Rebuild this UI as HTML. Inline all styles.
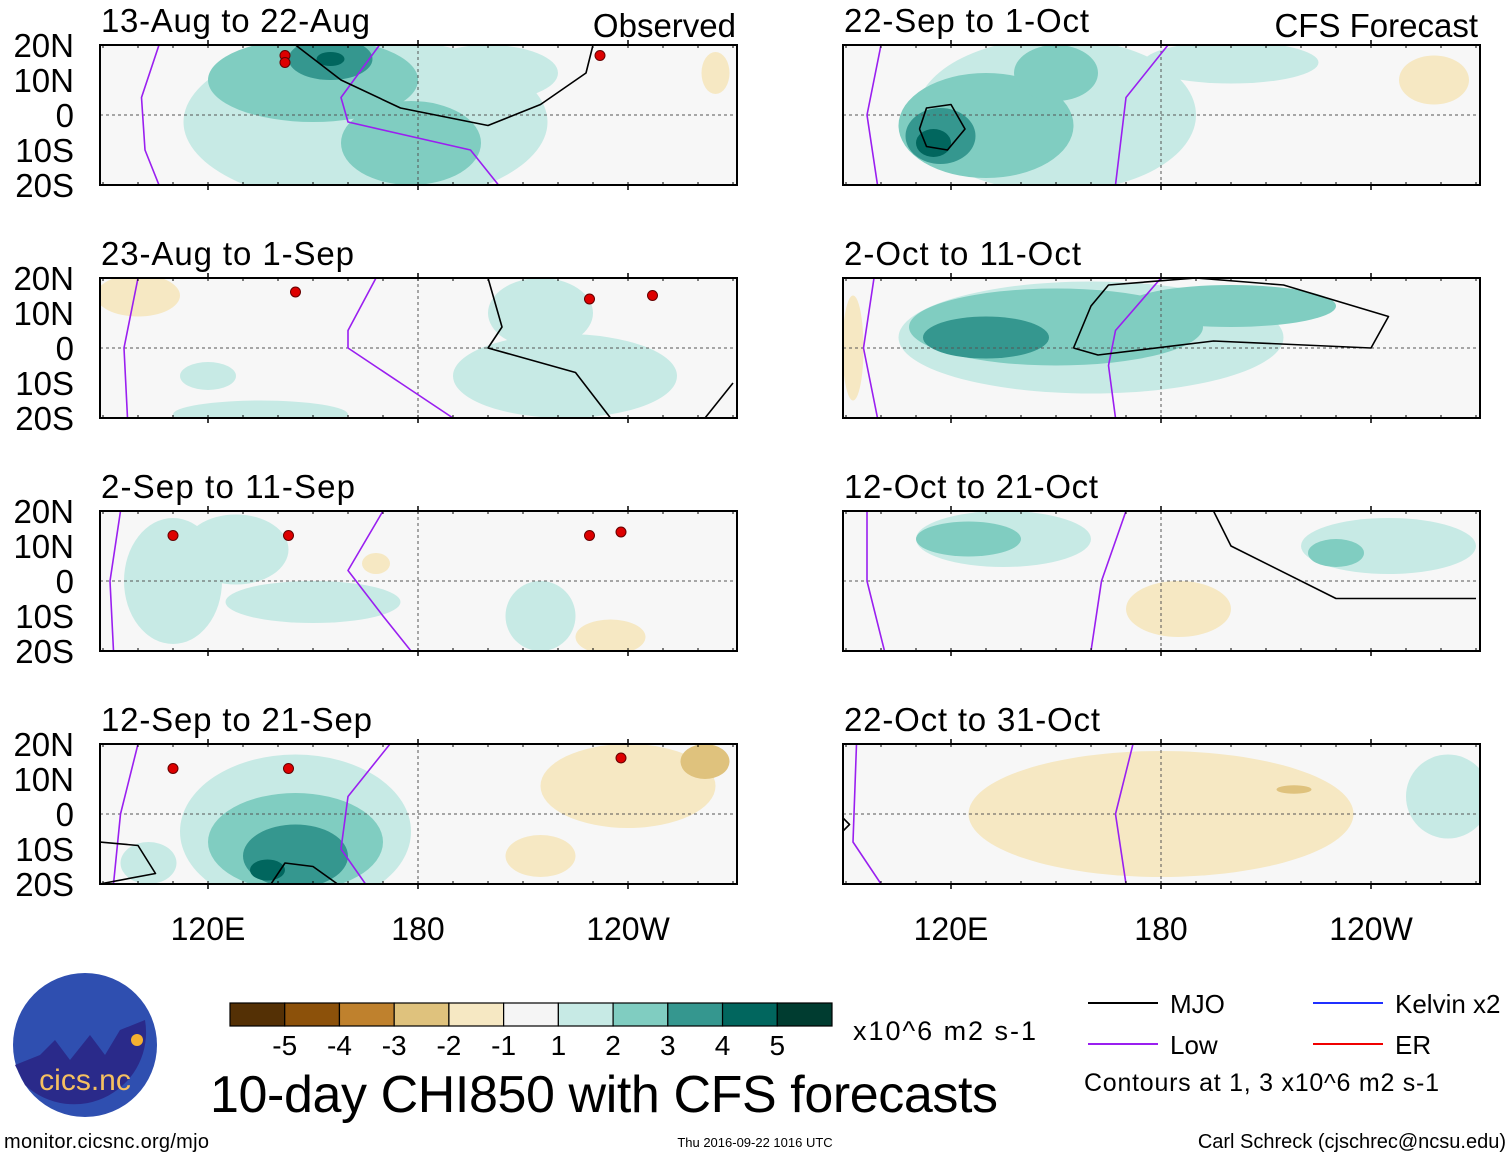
<!DOCTYPE html>
<html><head><meta charset="utf-8"><style>
body{margin:0;background:#fff;}
svg text{font-family:"Liberation Sans",sans-serif;}
</style></head><body>
<svg id="chart" width="1510" height="1158" viewBox="0 0 1510 1158" xmlns="http://www.w3.org/2000/svg"></svg>
<script>
// ---- data ----
const levelColors = {"-5":"#543005","-4":"#8c510a","-3":"#bf812d","-2":"#dfc27d","-1":"#f6e8c3","1":"#c7eae5","2":"#80cdc1","3":"#35978f","4":"#01665e","5":"#003c30"};
const colorbarColors = ["#543005","#8c510a","#bf812d","#dfc27d","#f6e8c3","#f5f5f5","#c7eae5","#80cdc1","#35978f","#01665e","#003c30"];
const colorbarLabels = ["-5","-4","-3","-2","-1","1","2","3","4","5"];
const latTicks = ["20N","10N","0","10S","20S"];
const lonTickLabels = ["120E","180","120W"];
const lonTickValues = [120,180,240];
const panelTitles = ["13-Aug to 22-Aug","23-Aug to 1-Sep","2-Sep to 11-Sep","12-Sep to 21-Sep","22-Sep to 1-Oct","2-Oct to 11-Oct","12-Oct to 21-Oct","22-Oct to 31-Oct"];
// blobs: [lon, lat, rxDeg, ryDeg, level]
const panelBlobs = [
 [[165,-2,52,24,1],[200,12,20,8,1],[150,10,30,12,2],[178,-8,20,12,2],[155,16,12,6,3],[155,16,4,2,4],[265,12,4,6,-1]],
 [[100,15,12,6,-1],[222,-8,32,12,1],[215,10,15,10,1],[135,-19,25,4,1],[120,-8,8,4,1]],
 [[110,0,14,18,1],[128,9,15,10,1],[150,-6,25,6,1],[215,-10,10,10,1],[235,-16,10,5,-1],[168,5,4,3,-1]],
 [[145,-5,33,22,1],[145,-8,25,14,2],[145,-12,15,9,3],[137,-16,5,3,4],[240,8,25,12,-1],[262,15,7,5,-2],[215,-12,10,6,-1],[103,-14,8,6,1]],
 [[150,0,40,22,1],[200,15,25,6,1],[130,-3,25,15,2],[150,12,12,8,2],[117,-6,10,8,3],[115,-8,5,4,4],[258,10,10,7,-1]],
 [[160,3,55,16,1],[150,6,42,11,2],[200,12,30,6,2],[130,3,18,6,3],[92,0,3,15,-1]],
 [[135,12,25,8,1],[245,10,25,8,1],[125,12,15,5,2],[230,8,8,4,2],[185,-8,15,8,-1]],
 [[180,0,55,18,-1],[218,7,5,1.2,-2],[262,5,12,12,1]]
];
const panelMJO = [
 [[[145,20],[158,10],[175,2],[200,-3],[215,3],[228,12],[230,20]]],
 [[[200,20],[204,6],[200,0],[225,-7],[235,-20]],[[270,-10],[262,-20]]],
 [],
 [[[89,-8],[100,-9],[105,-17],[89,-20]],[[138,-20],[142,-14],[150,-15],[157,-20]]],
 [[[111,-4],[113,2],[120,3],[124,-4],[119,-10],[113,-9],[111,-4]]],
 [[[155,0],[160,12],[165,18],[190,20],[215,18],[245,9],[240,0],[195,2],[162,-2],[155,0]]],
 [[[195,20],[200,10],[230,-5],[270,-5]]],
 [[[89,-1],[91,-3],[89,-5]]]
];
const panelLow = [
 [[[106,20],[101,5],[102,-10],[106,-20]],[[169,20],[158,5],[160,-2],[195,-10],[203,-20]]],
 [[[100,20],[96,0],[97,-20]],[[168,20],[160,5],[160,0],[175,-10],[190,-20]]],
 [[[95,20],[92,0],[93,-20]],[[170,20],[160,3],[170,-10],[178,-20]]],
 [[[100,20],[95,0],[93,-20]],[[172,20],[160,5],[158,-10],[165,-20]]],
 [[[100,20],[96,0],[99,-20]],[[182,20],[170,5],[167,-20]]],
 [[[98,20],[95,0],[99,-20]],[[180,20],[167,5],[165,-5],[167,-20]]],
 [[[96,20],[96,0],[101,-20]],[[170,20],[163,0],[160,-20]]],
 [[[93,20],[92,-8],[100,-20]],[[172,20],[167,0],[170,-20]]]
];
const storms = [[[142,17],[142,15],[232,17]],[[145,16],[229,14],[247,15]],[[110,13],[143,13],[229,13],[238,14]],[[110,13],[143,13],[238,16]],[],[],[],[]];
// ---- layout ----
const svg=document.getElementById('chart');
const NS='http://www.w3.org/2000/svg';
function el(tag,attrs,parent){const e=document.createElementNS(NS,tag);for(const k in attrs)e.setAttribute(k,attrs[k]);(parent||svg).appendChild(e);return e;}
const colX=[100,843], rowY=[45,278,511,744], PW=637, PH=140, lon0=120-108/3.5;
for(let p=0;p<8;p++){
 const cx=colX[p<4?0:1], cy=rowY[p%4];
 const xs=lon=>cx+(lon-lon0)*3.5, ys=lat=>cy+(20-lat)*3.5;
 const g=el('g',{});
 
 
 const clipId='c'+p;
 const cp=el('clipPath',{id:clipId},g); el('rect',{x:cx,y:cy,width:PW,height:PH},cp);
 el('rect',{x:cx,y:cy,width:PW,height:PH,fill:'#f7f7f7'},g);
 const inner=el('g',{'clip-path':'url(#'+clipId+')'},g);
 panelBlobs[p].forEach(b=>{const e=el('ellipse',{cx:xs(b[0]),cy:ys(b[1]),rx:b[2]*3.5,ry:b[3]*3.5,fill:levelColors[String(b[4])]},inner);
  });
 el('line',{x1:cx,x2:cx+PW,y1:ys(0),y2:ys(0),stroke:'#555','stroke-dasharray':'3,3','stroke-width':1},inner);
 el('line',{x1:xs(180),x2:xs(180),y1:cy,y2:cy+PH,stroke:'#555','stroke-dasharray':'3,3','stroke-width':1},inner);
 const line=(pts,col,name)=>{const d=pts.map((q,i)=>(i?'L':'M')+xs(q[0]).toFixed(1)+','+ys(q[1]).toFixed(1)).join('');
  const e=el('path',{d:d,fill:'none',stroke:col,'stroke-width':1.6,'stroke-linejoin':'round'},inner);
  };
 panelLow[p].forEach(l=>line(l,'#9a1ff0','low-contour'));
 panelMJO[p].forEach(l=>line(l,'#000','mjo-contour'));
 storms[p].forEach(s=>{const c=el('circle',{cx:xs(s[0]),cy:ys(s[1]),r:5,fill:'#d00',stroke:'#600'},inner);
  });
 el('rect',{x:cx,y:cy,width:PW,height:PH,fill:'none',stroke:'#000','stroke-width':2},g);
 lonTickValues.forEach(v=>{el('line',{x1:xs(v),x2:xs(v),y1:cy,y2:cy-5,stroke:'#000','stroke-width':1.5},g);el('line',{x1:xs(v),x2:xs(v),y1:cy+PH,y2:cy+PH+5,stroke:'#000','stroke-width':1.5},g);});
 for(let lon=90;lon<=270;lon+=10){el('line',{x1:xs(lon),x2:xs(lon),y1:cy,y2:cy+3,stroke:'#000'},g);el('line',{x1:xs(lon),x2:xs(lon),y1:cy+PH,y2:cy+PH-3,stroke:'#000'},g);}
 const t=el('text',{x:cx+1,y:cy-13,'font-size':33,textLength:p<4?[269,253,254,271][p]:[245,237,254,256][p-4]},g);t.textContent=panelTitles[p];
 
 if(p<4){latTicks.forEach((lab,i)=>{const tt=el('text',{x:74,y:cy+i*35+12,'font-size':33,'text-anchor':'end'},g);tt.textContent=lab;
  });}
}
const h1=el('text',{x:736,y:37,'font-size':33,'text-anchor':'end'});h1.textContent='Observed';

const h2=el('text',{x:1478,y:37,'font-size':33,'text-anchor':'end'});h2.textContent='CFS Forecast';

[0,1].forEach(c=>lonTickValues.forEach((v,i)=>{const t=el('text',{x:colX[c]+(v-lon0)*3.5,y:940,'font-size':32,'text-anchor':'middle'});t.textContent=lonTickLabels[i];
 }));
// colorbar
const cb=el('g',{});
const bw=602/11;
colorbarColors.forEach((c,i)=>el('rect',{x:230+i*bw,y:1003,width:bw,height:23,fill:c,stroke:'#000','stroke-width':1.2},cb));
colorbarLabels.forEach((l,i)=>{const t=el('text',{x:230+(i+1)*bw,y:1055,'font-size':28,'text-anchor':'middle'},cb);t.textContent=l;});
const u=el('text',{x:853,y:1040,'font-size':27,textLength:183});u.textContent='x10^6 m2 s-1';
const mt=el('text',{x:210,y:1112,'font-size':52,textLength:788});mt.textContent='10-day CHI850 with CFS forecasts';

// legend
const lg=el('g',{});
[[1088,1003,'#000','MJO'],[1088,1044,'#9a1ff0','Low'],[1313,1003,'#2030ff','Kelvin x2'],[1313,1044,'#f00000','ER']].forEach(L=>{
 el('line',{x1:L[0],x2:L[0]+70,y1:L[1],y2:L[1],stroke:L[2],'stroke-width':2},lg);
 const t=el('text',{x:L[0]+82,y:L[1]+10,'font-size':26},lg);t.textContent=L[3];});
const ct=el('text',{x:1084,y:1091,'font-size':25,textLength:355},lg);ct.textContent='Contours at 1, 3 x10^6 m2 s-1';
// logo
const lo=el('g',{});
el('circle',{cx:85,cy:1045,r:72,fill:'#2f4fb0'},lo);
el('path',{d:'M15,1065 L40,1055 L55,1040 L70,1060 L90,1035 L105,1055 L120,1030 L145,1020 A72 72 0 0 1 25,1085 Z',fill:'#2a2a8a'},lo);
el('circle',{cx:137,cy:1040,r:6,fill:'#f5b030'},lo);
const lt=el('text',{x:85,y:1090,'font-size':30,'text-anchor':'middle',fill:'#f5c060'},lo);lt.textContent='cics.nc';
const f1=el('text',{x:4,y:1148,'font-size':20,textLength:205});f1.textContent='monitor.cicsnc.org/mjo';
const f2=el('text',{x:755,y:1147,'font-size':13,'text-anchor':'middle'});f2.textContent='Thu 2016-09-22 1016 UTC';
const f3=el('text',{x:1506,y:1148,'font-size':20,'text-anchor':'end'});f3.textContent='Carl Schreck (cjschrec@ncsu.edu)';
</script>
</body></html>
